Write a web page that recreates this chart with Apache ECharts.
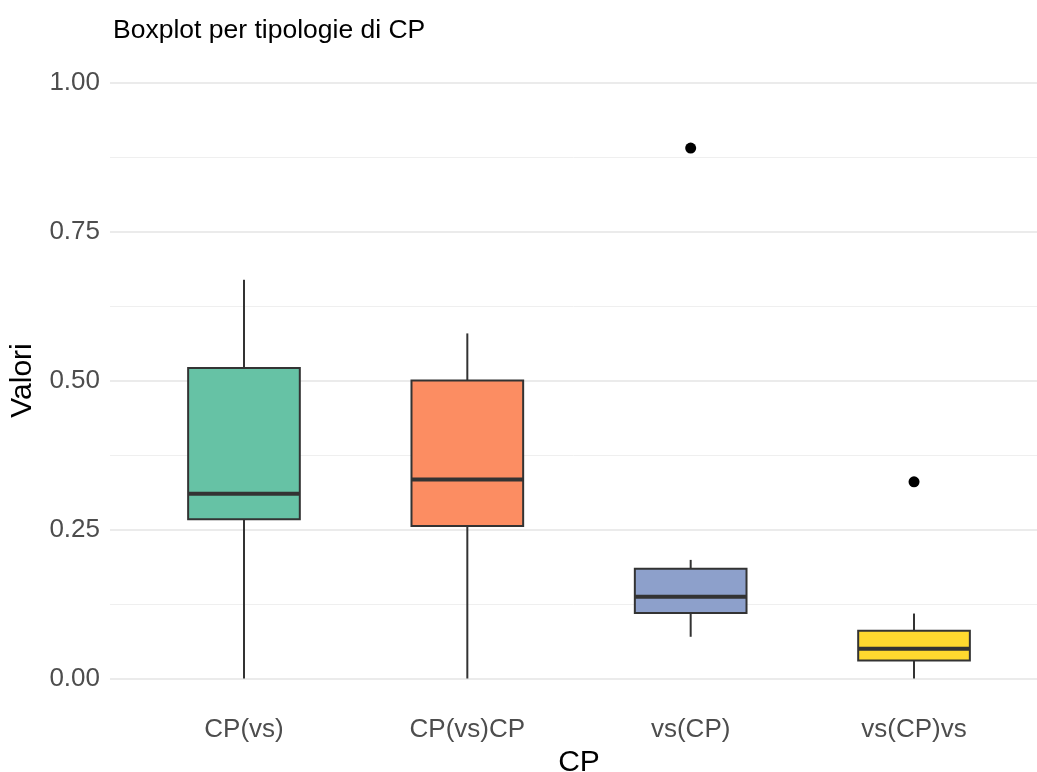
<!DOCTYPE html>
<html>
<head>
<meta charset="utf-8">
<script src="https://cdn.jsdelivr.net/npm/echarts@6/dist/echarts.min.js"></script>
<style>html,body{margin:0;padding:0;background:#fff}#c{width:1037px;height:772px}</style>
</head>
<body>
<div id="c"></div>
<script>
const categories = ['CP(vs)', 'CP(vs)CP', 'vs(CP)', 'vs(CP)vs'];
const whiskerLow = [0.000, 0.000, 0.070, 0.000];
const q1 = [0.267, 0.256, 0.110, 0.030];
const median = [0.310, 0.334, 0.137, 0.050];
const q3 = [0.521, 0.500, 0.184, 0.080];
const whiskerHigh = [0.669, 0.579, 0.199, 0.109];
const outlierCat = ['vs(CP)', 'vs(CP)vs'];
const outlierVal = [0.890, 0.330];
const yTicks = [0, 0.25, 0.5, 0.75, 1.0];

const palette = ['#66C2A5', '#FC8D62', '#8DA0CB', '#FFD92F'];
const font = 'Liberation Sans, Arial, Helvetica, sans-serif';

const boxData = categories.map((c, i) => [i, whiskerLow[i], q1[i], median[i], q3[i], whiskerHigh[i]]);

function renderBox(params, api) {
  const i = api.value(0);
  const lo = api.coord([i, api.value(1)]);
  const b1 = api.coord([i, api.value(2)]);
  const md = api.coord([i, api.value(3)]);
  const b3 = api.coord([i, api.value(4)]);
  const hi = api.coord([i, api.value(5)]);
  const half = api.size([1, 0])[0] * 0.25;
  const x = lo[0];
  const stroke = '#333333';
  return {
    type: 'group',
    children: [
      { type: 'line', shape: { x1: x, y1: lo[1], x2: x, y2: b1[1] }, style: { stroke: stroke, lineWidth: 2 } },
      { type: 'line', shape: { x1: x, y1: b3[1], x2: x, y2: hi[1] }, style: { stroke: stroke, lineWidth: 2 } },
      { type: 'rect', shape: { x: x - half, y: b3[1], width: half * 2, height: b1[1] - b3[1] },
        style: { fill: palette[params.dataIndex], stroke: stroke, lineWidth: 2 } },
      { type: 'line', shape: { x1: x - half, y1: md[1], x2: x + half, y2: md[1] }, style: { stroke: stroke, lineWidth: 4 } }
    ]
  };
}

const chart = echarts.init(document.getElementById('c'), null, { renderer: 'canvas' });
chart.setOption({
  backgroundColor: '#ffffff',
  animation: false,
  title: {
    text: 'Boxplot per tipologie di CP',
    left: 108, top: 12,
    textStyle: { fontFamily: font, fontSize: 26.5, fontWeight: 'normal', color: '#000000' }
  },
  grid: [
    { left: 110, right: 0, top: 82.5, bottom: 93.5, outerBoundsMode: 'none', containLabel: false },
    { left: 132.3, right: 11.3, top: 82.5, bottom: 93.5, outerBoundsMode: 'none', containLabel: false }
  ],
  xAxis: [
    { type: 'value', gridIndex: 0, show: false, min: 0, max: 1 },
    {
      type: 'category', gridIndex: 1, data: categories,
      axisLine: { show: false }, axisTick: { show: false }, splitLine: { show: false },
      axisLabel: { margin: 38, fontSize: 26, color: '#4D4D4D', fontFamily: font },
      name: 'CP', nameLocation: 'middle', nameGap: 67,
      nameTextStyle: { fontSize: 30, color: '#000000', fontFamily: font }
    }
  ],
  yAxis: [
    {
      type: 'value', gridIndex: 0, min: 0, max: 1, interval: 0.25,
      axisLine: { show: false }, axisTick: { show: false },
      axisLabel: { margin: 10, fontSize: 26, color: '#4D4D4D', fontFamily: font,
        formatter: v => yTicks.includes(+v.toFixed(4)) ? v.toFixed(2) : '' },
      splitLine: { show: true, lineStyle: { color: '#EBEBEB', width: 1.8 } },
      minorTick: { show: false, splitNumber: 2 },
      minorSplitLine: { show: true, lineStyle: { color: '#EFEFEF', width: 1 } },
      name: 'Valori', nameLocation: 'middle', nameGap: 72, nameRotate: 90,
      nameTextStyle: { fontSize: 30, color: '#000000', fontFamily: font }
    },
    { type: 'value', gridIndex: 1, min: 0, max: 1, show: false, splitLine: { show: false } }
  ],
  series: [
    {
      type: 'custom', xAxisIndex: 1, yAxisIndex: 1,
      renderItem: renderBox,
      encode: { x: 0, y: [1, 2, 3, 4, 5] },
      data: boxData, clip: false, z: 3
    },
    {
      type: 'scatter', xAxisIndex: 1, yAxisIndex: 1,
      symbol: 'circle', symbolSize: 11,
      itemStyle: { color: '#000000', opacity: 1 },
      data: outlierCat.map((c, i) => [c, outlierVal[i]]), z: 4
    }
  ]
});
</script>
</body>
</html>
